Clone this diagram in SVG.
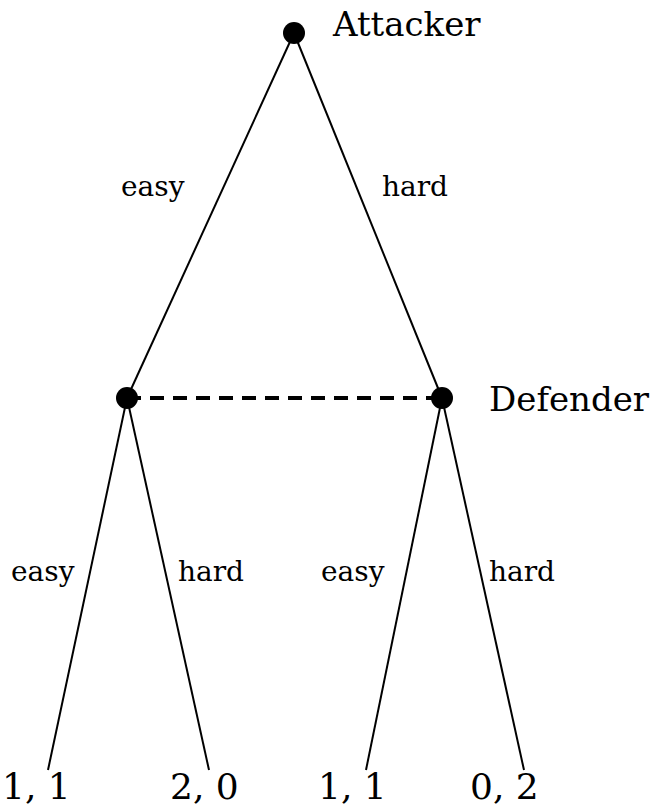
<svg xmlns="http://www.w3.org/2000/svg" width="651" height="808" viewBox="0 0 651 808">
<style>
.e{stroke:#000;stroke-width:2;fill:none}
.d{stroke:#000;stroke-width:4;stroke-dasharray:14 9;fill:none}
.n{fill:#000}
.t{font-family:"DejaVu Serif",serif;fill:#000}
.lb{font-size:28px}
.pl{font-size:34px}
.pay{font-size:36px}
</style>
<rect width="651" height="808" fill="#fff"/>
<g id="connectors">
<line class="e" x1="294" y1="33" x2="127" y2="398"/>
<line class="e" x1="294" y1="33" x2="442" y2="398"/>
<line class="d" x1="127" y1="398" x2="442" y2="398"/>
<line class="e" x1="127" y1="398" x2="48" y2="770"/>
<line class="e" x1="127" y1="398" x2="209" y2="770"/>
<line class="e" x1="442" y1="398" x2="366" y2="770"/>
<line class="e" x1="442" y1="398" x2="524" y2="770"/>
<text class="t lb" x="121" y="196">easy</text>
<text class="t lb" x="382" y="196">hard</text>
<text class="t lb" x="11" y="581">easy</text>
<text class="t lb" x="178" y="581">hard</text>
<text class="t lb" x="321" y="581">easy</text>
<text class="t lb" x="489" y="581">hard</text>
</g>
<g id="attacker">
<circle class="n" cx="294" cy="33" r="11"/>
<text class="t pl" x="333" y="36">Attacker</text>
</g>
<g id="defender-left">
<circle class="n" cx="127" cy="398" r="11"/>
</g>
<g id="defender-right">
<circle class="n" cx="442" cy="398" r="11"/>
<text class="t pl" x="489" y="411">Defender</text>
</g>
<g id="leaf1"><text class="t pay" x="2" y="799">1, 1</text></g>
<g id="leaf2"><text class="t pay" x="170" y="799">2, 0</text></g>
<g id="leaf3"><text class="t pay" x="318" y="799">1, 1</text></g>
<g id="leaf4"><text class="t pay" x="470" y="799">0, 2</text></g>
</svg>
